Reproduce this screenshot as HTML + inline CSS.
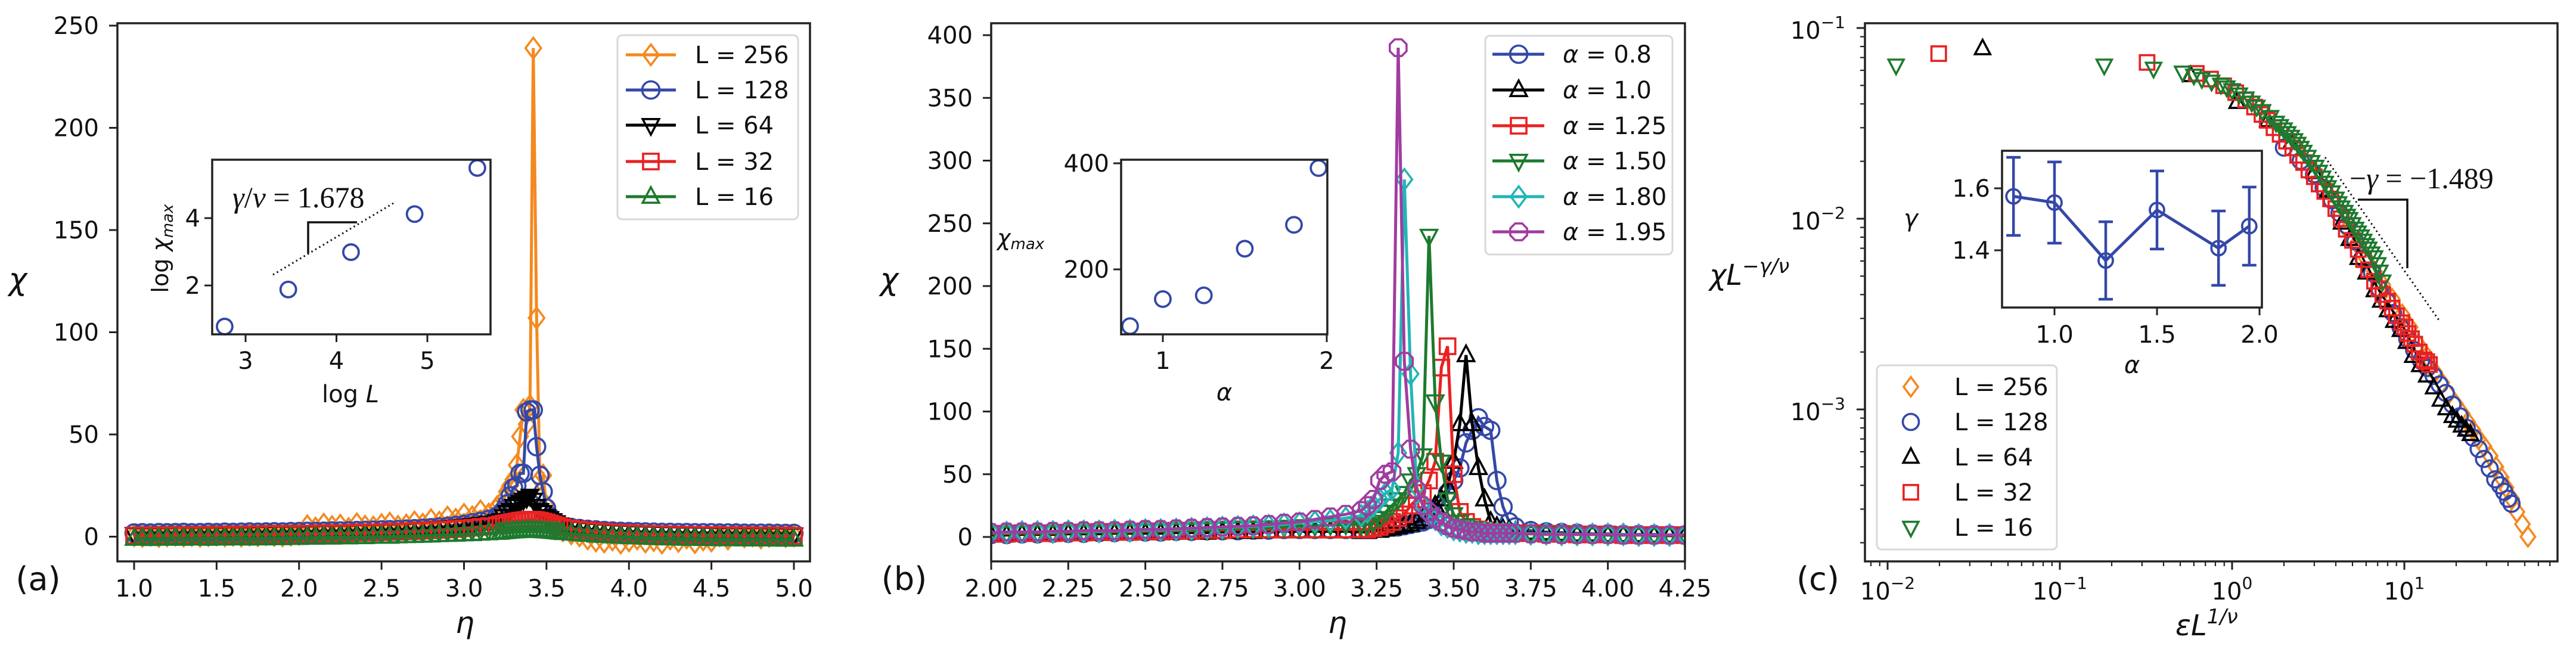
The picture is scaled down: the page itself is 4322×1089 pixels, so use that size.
<!DOCTYPE html>
<html><head><meta charset="utf-8"><style>
html,body{margin:0;padding:0;background:#fff;}
svg{display:block;}
text{font-family:"DejaVu Sans","Liberation Sans",sans-serif;fill:#111;}
.serif{font-family:"Liberation Serif","DejaVu Serif",serif;}
</style></head><body>
<svg id="fig" xmlns="http://www.w3.org/2000/svg" width="4322" height="1089" viewBox="0 0 4322 1089"></svg>
<script>
// ---------- Panel (a) data ----------
const ETA_A=[1.00,1.05,1.10,1.15,1.20,1.25,1.30,1.35,1.40,1.45,1.50,1.55,1.60,1.65,1.70,1.75,1.80,1.85,1.90,1.95,2.00,2.05,2.10,2.15,2.20,2.25,2.30,2.35,2.40,2.45,2.50,2.55,2.60,2.65,2.70,2.75,2.80,2.85,2.90,2.95,3.00,3.05,3.10,3.15,3.20,
3.22,3.24,3.26,3.28,3.30,3.32,3.34,3.36,3.38,3.40,3.42,3.44,3.46,3.48,3.50,3.52,3.54,3.56,3.58,
3.60,3.65,3.70,3.75,3.80,3.85,3.90,3.95,4.00,4.05,4.10,4.15,4.20,4.25,4.30,4.35,4.40,4.45,4.50,4.55,4.60,4.65,4.70,4.75,4.80,4.85,4.90,4.95,5.00];
const CHI_L256=[0.6,0.3,0.8,0.2,0.5,0.9,0.4,0.7,0.3,0.6,1.0,0.5,0.8,0.4,0.9,0.6,1.1,0.7,0.5,0.9,1.2,5.2,4.1,6.0,4.8,5.5,3.9,6.2,5.0,4.6,5.8,6.5,4.9,5.6,7.1,6.0,8.2,7.0,9.5,8.4,10.8,9.6,12.5,11.0,14.5,
16,18,22,25,28,35,49,62,55,64,239,107,28,30,15,10,7,5,4,
3,1.5,0.5,-1,-2,-2.5,-1.5,-3,-2,-1,-2.5,-1.8,-3,-1,-2.2,-0.5,-2.8,-1.5,-2,0.5,-1,1,0,0.5,-0.5,0.3,0.8,0.2,0.5];
const CHI_L128=[1.8,1.9,1.8,2.0,1.9,2.0,2.1,1.9,2.0,2.1,2.0,2.2,2.1,2.2,2.3,2.2,2.3,2.4,2.3,2.5,2.5,2.6,2.6,2.7,2.8,2.8,2.9,3.0,3.1,3.2,3.3,3.4,3.5,3.7,3.9,4.1,4.4,4.7,5.0,5.5,6.0,6.8,7.5,8.5,10,
11,13,16,20,24,25,31,31,61,62,62,44,30,22,14,10,8,7,6,
5,4.5,4,3.6,3.3,3.0,2.8,2.6,2.5,2.4,2.3,2.2,2.1,2.1,2.0,2.0,1.9,1.9,1.9,1.8,1.8,1.8,1.7,1.7,1.7,1.7,1.6,1.6,1.6];
const CHI_L64=[1.2,1.3,1.2,1.4,1.3,1.4,1.5,1.4,1.5,1.6,1.5,1.6,1.7,1.6,1.7,1.8,1.8,1.9,1.9,2.0,2.0,2.1,2.2,2.2,2.3,2.4,2.5,2.6,2.7,2.8,2.9,3.0,3.2,3.3,3.5,3.7,3.9,4.2,4.5,4.8,5.2,5.7,6.2,6.8,7.5,
8,10,12,13,15,16,17,18,19,20,18,15,13,12,10,9,8,7,6,
5.5,4.8,4.2,3.7,3.3,3.0,2.7,2.5,2.3,2.1,2.0,1.9,1.8,1.7,1.6,1.5,1.5,1.4,1.4,1.3,1.3,1.3,1.2,1.2,1.2,1.1,1.1,1.1,1.0];
const CHI_L32=[0.5,0.6,0.5,0.6,0.7,0.6,0.7,0.7,0.8,0.8,0.9,0.9,1.0,1.0,1.1,1.1,1.2,1.2,1.3,1.3,1.4,1.4,1.5,1.6,1.6,1.7,1.8,1.9,2.0,2.1,2.2,2.3,2.4,2.6,2.7,2.9,3.1,3.3,3.5,3.8,4.1,4.4,4.8,5.2,5.6,
6.0,6.3,6.6,6.9,7.2,7.5,7.8,8.0,8.2,8.3,8.3,8.1,7.8,7.4,7.0,6.5,6.0,5.5,5.0,
4.6,4.0,3.5,3.1,2.7,2.4,2.1,1.9,1.7,1.5,1.4,1.3,1.2,1.1,1.0,0.9,0.9,0.8,0.8,0.7,0.7,0.6,0.6,0.6,0.5,0.5,0.5,0.5,0.4];
const CHI_L16=[-1.0,-0.8,-1.1,-0.9,-1.0,-0.7,-1.0,-0.9,-0.8,-1.0,-0.7,-0.9,-0.8,-0.6,-0.9,-0.7,-0.8,-0.6,-0.7,-0.5,-0.6,-0.4,-0.5,-0.3,-0.4,-0.2,-0.3,-0.1,-0.2,0.0,0.1,0.0,0.2,0.3,0.4,0.5,0.6,0.8,0.9,1.0,1.2,1.3,1.5,1.7,1.9,
2.0,2.2,2.3,2.5,2.6,2.7,2.8,2.9,3.0,3.0,3.0,2.9,2.8,2.7,2.6,2.5,2.3,2.2,2.0,
1.8,1.5,1.2,0.9,0.6,0.4,0.2,0.0,-0.2,-0.3,-0.5,-0.6,-0.7,-0.8,-0.9,-1.0,-1.0,-1.1,-1.1,-1.2,-1.2,-1.2,-1.3,-1.3,-1.3,-1.3,-1.4,-1.4,-1.4];
const LEGEND_A=["L = 256","L = 128","L = 64","L = 32","L = 16"];
const INSET_A_LOGL=[2.77,3.47,4.16,4.86,5.55];
const INSET_A_LOGCHI=[0.78,1.88,2.99,4.12,5.49];
const XTICKS_A=["1.0","1.5","2.0","2.5","3.0","3.5","4.0","4.5","5.0"];
const YTICKS_A=["0","50","100","150","200","250"];

// ---------- Panel (b) data ----------
const ETA_B=[2.00,2.05,2.10,2.15,2.20,2.25,2.30,2.35,2.40,2.45,2.50,2.55,2.60,2.65,2.70,2.75,2.80,2.85,2.90,2.95,3.00,3.05,3.10,3.15,3.20,
3.22,3.24,3.26,3.28,3.30,3.32,3.34,3.36,3.38,3.40,3.42,3.44,3.46,3.48,3.50,3.52,3.54,3.56,3.58,3.60,3.62,3.64,3.66,3.68,3.70,
3.75,3.80,3.85,3.90,3.95,4.00,4.05,4.10,4.15,4.20,4.25];
const CHI_A08=[2,2,2.5,2.5,3,3,3,3.5,3.5,4,4,4,4.5,4.5,5,5,5,5.5,5.5,6,6,6,6,6,6,
6,6,7,7,8,8,9,10,11,12,14,18,25,35,45,55,75,85,95,88,85,45,24,12,8,
5,4,3.5,3,2.5,2.5,2,2,2,1.5,1.5];
const CHI_A10=[1.5,1.5,2,2,2,2.5,2.5,2.5,3,3,3,3,3.5,3.5,3.5,4,4,4,4.5,4.5,4.5,4.5,4.5,4.5,4,
4,5,5,6,7,8,9,10,12,14,18,25,30,40,60,90,145,90,55,30,12,8,6,5,4,
3.5,3,2.5,2,2,1.5,1.5,1.5,1,1,1];
const CHI_A125=[2.5,2.5,3,3,3,3.5,3.5,4,4,4,4.5,4.5,5,5,5.5,5.5,6,6,6,6,6,6,6,6,6,
6,7,8,10,12,15,18,25,30,35,45,60,135,152,50,20,12,8,6,5,4,4,3,3,3,
3,2.5,2.5,2,2,2,1.5,1.5,1.5,1.5,1.5];
const CHI_A150=[3,3,3.5,3.5,3.5,4,4,4,4.5,4.5,5,5,5.5,5.5,6,6.5,7,7,7.5,8,8.5,9,9.5,10,10,
10,12,15,20,25,30,35,45,50,65,240,108,60,30,18,12,9,7,6,5,4,4,3,3,3,
3,2.5,2.5,2,2,2,2,1.5,1.5,1.5,1.5];
const CHI_A180=[3.5,3.5,4,4,4,4.5,4.5,4.5,5,5,5.5,5.5,6,6.5,7,7.5,8,8.5,9,10,11,12,13,15,17,
20,25,30,35,38,67,285,130,40,25,18,14,10,8,6,5,4,4,3,3,3,3,3,3,3,
2.5,2.5,2,2,2,2,2,1.5,1.5,1.5,1.5];
const CHI_A195=[3.5,4,4,4,4.5,4.5,5,5,5,5.5,6,6,6.5,7,7.5,8,8.5,9,10,11,12,14,16,18,21,
25,30,45,50,52,390,140,70,38,25,20,15,12,9,7,6,5,4,4,3,3,3,3,3,3,
2.5,2,2,2,2,2,1.5,1.5,1.5,1.5,1.5];
const LEGEND_B=["0.8","1.0","1.25","1.50","1.80","1.95"];
const INSET_B_ALPHA=[0.8,1.0,1.25,1.5,1.8,1.95];
const INSET_B_CHIMAX=[93,144,151,239,284,391];
const XTICKS_B=["2.00","2.25","2.50","2.75","3.00","3.25","3.50","3.75","4.00","4.25"];
const YTICKS_B=["0","50","100","150","200","250","300","350","400"];

// ---------- Panel (c) data ----------
const C_X_L256=[4.65,5.3,6.0,6.7,7.5,8.5,9.7,10.8,12,13.5,15,16.5,18,19.8,21.7,23.3,25,27,29,31.5,34,36.5,38.9,42,45,48.5,52.2];
const C_Y_L256=[0.0088,0.0074,0.0062,0.0053,0.0045,0.0038,0.00315,0.0027,0.0022,0.0019,0.00157,0.00138,0.0012,0.00107,0.00095,0.00086,0.00078,0.0007,0.00064,0.00057,0.0005,0.00044,0.00039,0.00034,0.00029,0.00025,0.000215];
const C_X_L128=[2.0,2.5,2.99,3.4,3.8,4.2,4.65,5.2,5.8,6.5,7.2,7.9,8.6,9.5,10.4,11.4,12.5,13.6,14.8,16,17.4,19,21,23,25.1,27,29,31.3,33.7,36,38,40,41.9];
const C_Y_L128=[0.0236,0.0201,0.0171,0.0145,0.0125,0.0107,0.0092,0.0076,0.0062,0.0052,0.00425,0.0037,0.0032,0.0027,0.00234,0.00205,0.0018,0.00165,0.0015,0.00135,0.00122,0.00106,0.00092,0.0008,0.00071,0.00062,0.00055,0.00049,0.00043,0.0004,0.00037,0.00034,0.00032];
const C_X_L64=[0.0356,0.575,1.07,1.61,2.2,3.0,3.6,4.32,4.8,5.4,6.0,6.7,7.3,8.0,8.7,9.5,10.3,11.2,12.3,13.5,14.8,16.2,17.5,19,20.2,21.5,22.8,24.2];
const C_Y_L64=[0.078,0.0564,0.0408,0.0327,0.025,0.0175,0.014,0.0095,0.0078,0.0062,0.0052,0.0042,0.0037,0.0033,0.0029,0.0026,0.00225,0.0019,0.0017,0.0015,0.0013,0.00112,0.00101,0.00092,0.00087,0.00082,0.00078,0.00074];
const C_X_L32=[0.0198,0.321,0.62,0.75,0.893,1.05,1.2,1.35,1.49,1.6,1.75,1.9,2.07,2.25,2.4,2.6,2.79,3.0,3.2,3.45,3.73,4.0,4.3,4.6,5.0,5.4,5.8,6.2,6.71,7.1,7.5,8.0,8.5,9.0,9.68,10.1,10.5,11.0,11.5,12.2,13.0,13.5,14.0];
const C_Y_L32=[0.0734,0.066,0.0578,0.054,0.0498,0.0458,0.0419,0.0385,0.0352,0.0328,0.030,0.0277,0.0255,0.0235,0.0215,0.0197,0.018,0.0166,0.0152,0.0139,0.0127,0.0113,0.0100,0.0088,0.0077,0.0069,0.0061,0.0054,0.0047,0.0043,0.0040,0.0037,0.0034,0.0031,0.00285,0.0027,0.0025,0.00235,0.0022,0.0020,0.00182,0.00178,0.00172];
const C_X_L16=[0.0112,0.181,0.35,0.516,0.6,0.667,0.76,0.861,0.93,0.998,1.1,1.2,1.3,1.39,1.5,1.67,1.8,1.9,2.0,2.1,2.2,2.3,2.4,2.5,2.6,2.75,2.89,3.05,3.2,3.35,3.47,3.6,3.8,4.0,4.15,4.32,4.5,4.65,4.8,5.0,5.2,5.38,5.6,5.8,6.0,6.2,6.45,6.71,7.0,7.2,7.48];
const C_Y_L16=[0.0638,0.0638,0.0614,0.0586,0.0565,0.0542,0.0525,0.0506,0.049,0.0474,0.045,0.0429,0.0408,0.0388,0.0368,0.0343,0.032,0.0307,0.0295,0.0282,0.027,0.0259,0.0248,0.0236,0.0225,0.0212,0.0199,0.0188,0.0177,0.0165,0.0155,0.0147,0.0138,0.0128,0.0121,0.0115,0.0109,0.0104,0.0100,0.0094,0.0089,0.0085,0.0081,0.0077,0.0073,0.0070,0.0066,0.0063,0.0058,0.0053,0.0047];
const LEGEND_C=["L = 256","L = 128","L = 64","L = 32","L = 16"];
const INSET_C_ALPHA=[0.8,1.0,1.25,1.5,1.8,1.95];
const INSET_C_GAMMA=[1.574,1.554,1.367,1.530,1.407,1.478];
const INSET_C_ERR=[0.126,0.131,0.125,0.126,0.120,0.126];

// ---------- helpers ----------
const NS='http://www.w3.org/2000/svg';
const svg=document.getElementById('fig');
function mk(parent,tag,attrs){const e=document.createElementNS(NS,tag);for(const k in attrs)e.setAttribute(k,attrs[k]);parent.appendChild(e);return e;}
function grp(parent,name){const g=mk(parent,'g',{});return g;}
function lin(p0,p1,v0,v1){return v=>p0+(v-v0)*(p1-p0)/(v1-v0);}
function lg(p0,p1,v0,v1){return v=>p0+(Math.log10(v)-v0)*(p1-p0)/(v1-v0);}
function marker(g,type,x,y,s,color,sw){
  let e;const a={fill:'none',stroke:color,'stroke-width':sw};
  if(type==='circle'){a.cx=x;a.cy=y;a.r=s;e=mk(g,'circle',a);}
  else if(type==='diamond'){a.points=`${x},${y-s*1.2} ${x+s*0.9},${y} ${x},${y+s*1.2} ${x-s*0.9},${y}`;e=mk(g,'polygon',a);}
  else if(type==='square'){a.x=x-s*0.9;a.y=y-s*0.9;a.width=s*1.8;a.height=s*1.8;e=mk(g,'rect',a);}
  else if(type==='tup'){a.points=`${x},${y-s*1.1} ${x+s*0.95},${y+s*0.7} ${x-s*0.95},${y+s*0.7}`;e=mk(g,'polygon',a);}
  else if(type==='tdown'){a.points=`${x},${y+s*1.1} ${x+s*0.95},${y-s*0.7} ${x-s*0.95},${y-s*0.7}`;e=mk(g,'polygon',a);}
  else {let pts=[];for(let i=0;i<8;i++){const t=Math.PI/8+i*Math.PI/4;pts.push((x+s*1.05*Math.cos(t)).toFixed(1)+','+(y+s*1.05*Math.sin(t)).toFixed(1));}a.points=pts.join(' ');e=mk(g,'polygon',a);}
  return e;
}
function txt(g,x,y,s,size,anchor,extra){const t=mk(g,'text',Object.assign({x:x,y:y,'font-size':size,'text-anchor':anchor||'middle'},extra||{}));t.textContent=s;return t;}
function frame(g,l,t,r,b,sw){return mk(g,'rect',{x:l,y:t,width:r-l,height:b-t,fill:'none',stroke:'#222','stroke-width':sw||3.5});}

const C={orange:'#f4891f',blue:'#3448a8',black:'#000',red:'#e82222',green:'#1d7a2e',cyan:'#22b5b5',purple:'#a03ca0'};
const MSW=3.6, LW=5;

// ================= PANEL A =================
(function(){
const P=grp(svg,'panel-a');
const L=197,R=1359,T=39,B=942;
const sx=lin(225,1332,1,5), sy=lin(900.5,43,0,250);
const clip=mk(P,'clipPath',{id:'clipA'});mk(clip,'rect',{x:L,y:T,width:R-L,height:B-T});
const data=grp(P,'plot-area-a');data.setAttribute('clip-path','url(#clipA)');
const series=[[CHI_L256,C.orange,'diamond','l256'],[CHI_L128,C.blue,'circle','l128'],[CHI_L64,C.black,'tdown','l64'],[CHI_L32,C.red,'square','l32'],[CHI_L16,C.green,'tup','l16']];
series.forEach(([Y,col,mt,nm])=>{
  const g=grp(data,'series-'+nm);
  const pl=mk(g,'polyline',{points:ETA_A.map((e,i)=>sx(e).toFixed(1)+','+sy(Y[i]).toFixed(1)).join(' '),fill:'none',stroke:col,'stroke-width':LW});
  
  
  ETA_A.forEach((e,i)=>{const m=marker(g,mt,sx(e),sy(Y[i]),14.5,col,MSW);
    
    });
});
const ax=grp(P,'axes-a');
frame(ax,L,T,R,B);
XTICKS_A.forEach(s=>{const v=parseFloat(s);mk(ax,'line',{x1:sx(v),x2:sx(v),y1:B,y2:B+14,stroke:'#222','stroke-width':3});
  const t=txt(ax,sx(v),1001,s,40);});
YTICKS_A.forEach(s=>{const v=parseFloat(s);mk(ax,'line',{x1:L-14,x2:L,y1:sy(v),y2:sy(v),stroke:'#222','stroke-width':3});
  const t=txt(ax,166,sy(v)+14,s,40,'end');});
const xl=txt(ax,780,1062,'η',50,'middle',{'font-style':'italic'});
const yl=txt(ax,30,486,'χ',52,'middle',{'font-style':'italic'});
const pl=txt(P,64,990,'(a)',54,'middle',{fill:'#555'});
const lgd=grp(P,'legend-a');
mk(lgd,'rect',{x:1036,y:59,width:303,height:309,rx:8,fill:'#fff','fill-opacity':0.85,stroke:'#d8d8d8','stroke-width':3});
const ly=[92,151,210,271,330];
series.forEach(([Y,col,mt,nm],i)=>{const e=grp(lgd,'legend-entry-'+nm);
  mk(e,'line',{x1:1050,x2:1134,y1:ly[i],y2:ly[i],stroke:col,'stroke-width':LW});
  marker(e,mt,1092,ly[i],14.5,col,MSW);
  txt(e,1166,ly[i]+14,LEGEND_A[i],40,'start');});
const ins=grp(P,'inset-a');
const iL=356,iR=823,iT=268,iB=561;
const ix=lin(412,717,3,5), iy=lin(479,366,2,4);
mk(ins,'rect',{x:iL,y:iT,width:iR-iL,height:iB-iT,fill:'#fff'});
const dl=mk(ins,'line',{x1:458,y1:461,x2:660,y2:341,stroke:'#111','stroke-width':3,'stroke-dasharray':'2.5 5'});

mk(ins,'polyline',{points:'517,425 517,373 599,373',fill:'none',stroke:'#111','stroke-width':3.5});
const ft=txt(ins,390,348,'',50,'start',{class:'serif'});
ft.innerHTML='<tspan font-style="italic">γ</tspan>/<tspan font-style="italic">ν</tspan> = 1.678';
INSET_A_LOGL.forEach((v,i)=>{const m=marker(ins,'circle',ix(v),iy(INSET_A_LOGCHI[i]),13,C.blue,3.8);
  });
frame(ins,iL,iT,iR,iB,3.5);
[3,4,5].forEach(v=>{mk(ins,'line',{x1:ix(v),x2:ix(v),y1:iB,y2:iB+13,stroke:'#222','stroke-width':3});txt(ins,ix(v),619,String(v),40);});
[2,4].forEach(v=>{mk(ins,'line',{x1:iL-13,x2:iL,y1:iy(v),y2:iy(v),stroke:'#222','stroke-width':3});txt(ins,iL-20,iy(v)+14,String(v),40,'end');});
const ilx=txt(ins,588,675,'',40);ilx.innerHTML='log <tspan font-style="italic">L</tspan>';
const ily=txt(ins,0,0,'',38,'middle',{transform:'translate(282,417) rotate(-90)'});ily.innerHTML='log <tspan font-style="italic">χ</tspan><tspan font-style="italic" font-size="26" dy="8">max</tspan>';
})();

// ================= PANEL B =================
(function(){
const P=grp(svg,'panel-b');
const L=1663,R=2827,T=39,B=942;
const sx=lin(1663,2827,2,4.25), sy=lin(901,59,0,400);
const clip=mk(P,'clipPath',{id:'clipB'});mk(clip,'rect',{x:L,y:T,width:R-L,height:B-T});
const data=grp(P,'plot-area-b');data.setAttribute('clip-path','url(#clipB)');
const series=[[CHI_A08,C.blue,'circle','a08'],[CHI_A10,C.black,'tup','a10'],[CHI_A125,C.red,'square','a125'],[CHI_A150,C.green,'tdown','a150'],[CHI_A180,C.cyan,'diamond','a180'],[CHI_A195,C.purple,'oct','a195']];
series.forEach(([Y,col,mt,nm])=>{
  const g=grp(data,'series-'+nm);
  const pl=mk(g,'polyline',{points:ETA_B.map((e,i)=>sx(e).toFixed(1)+','+sy(Y[i]).toFixed(1)).join(' '),fill:'none',stroke:col,'stroke-width':LW});
  
  
  ETA_B.forEach((e,i)=>{const m=marker(g,mt,sx(e),sy(Y[i]),14.5,col,MSW);
    
    });
});
const ax=grp(P,'axes-b');
frame(ax,L,T,R,B);
XTICKS_B.forEach(s=>{const v=parseFloat(s);mk(ax,'line',{x1:sx(v),x2:sx(v),y1:B,y2:B+14,stroke:'#222','stroke-width':3});
  const t=txt(ax,sx(v),1001,s,40);});
YTICKS_B.forEach(s=>{const v=parseFloat(s);mk(ax,'line',{x1:L-14,x2:L,y1:sy(v),y2:sy(v),stroke:'#222','stroke-width':3});
  const t=txt(ax,L-31,sy(v)+14,s,40,'end');});
const xl=txt(ax,2244,1062,'η',50,'middle',{'font-style':'italic'});
const yl=txt(ax,1492,486,'χ',52,'middle',{'font-style':'italic'});
const pl=txt(P,1517,990,'(b)',54,'middle',{fill:'#555'});
const lgd=grp(P,'legend-b');
mk(lgd,'rect',{x:2492,y:60,width:314,height:367,rx:8,fill:'#fff','fill-opacity':0.85,stroke:'#d8d8d8','stroke-width':3});
const ly=[91,151,211,270,330,389];
series.forEach(([Y,col,mt,nm],i)=>{const e=grp(lgd,'legend-entry-'+nm);
  mk(e,'line',{x1:2504,x2:2591,y1:ly[i],y2:ly[i],stroke:col,'stroke-width':LW});
  marker(e,mt,2548,ly[i],14.5,col,MSW);
  const t=txt(e,2622,ly[i]+14,'',40,'start');t.innerHTML='<tspan font-style="italic">α</tspan> = '+LEGEND_B[i];});
const ins=grp(P,'inset-b');
const iL=1881,iR=2227,iT=268,iB=561;
const ix=lin(1951,2226,1,2), iy=lin(452,274,200,400);
mk(ins,'rect',{x:iL,y:iT,width:iR-iL,height:iB-iT,fill:'#fff'});
INSET_B_ALPHA.forEach((v,i)=>{const m=marker(ins,'circle',ix(v),iy(INSET_B_CHIMAX[i]),13,C.blue,3.8);
  });
frame(ins,iL,iT,iR,iB,3.5);
[1,2].forEach(v=>{mk(ins,'line',{x1:ix(v),x2:ix(v),y1:iB,y2:iB+13,stroke:'#222','stroke-width':3});txt(ins,ix(v),619,String(v),40);});
[200,400].forEach(v=>{mk(ins,'line',{x1:iL-13,x2:iL,y1:iy(v),y2:iy(v),stroke:'#222','stroke-width':3});txt(ins,iL-20,iy(v)+14,String(v),40,'end');});
txt(ins,2054,672,'α',40,'middle',{'font-style':'italic'});
const cm=txt(ins,1673,412,'',38,'start');cm.innerHTML='<tspan font-style="italic">χ</tspan><tspan font-style="italic" font-size="26" dy="6">max</tspan>';
})();

// ================= PANEL C =================
(function(){
const P=grp(svg,'panel-c');
const L=3129,R=4291,T=39,B=942;
const sx=lg(3745,4034,0,1), sy=lg(47,367,-1,-2);
const clip=mk(P,'clipPath',{id:'clipC'});mk(clip,'rect',{x:L,y:T,width:R-L,height:B-T});
const data=grp(P,'plot-area-c');data.setAttribute('clip-path','url(#clipC)');
const series=[[C_X_L256,C_Y_L256,C.orange,'diamond','l256'],[C_X_L128,C_Y_L128,C.blue,'circle','l128'],[C_X_L64,C_Y_L64,C.black,'tup','l64'],[C_X_L32,C_Y_L32,C.red,'square','l32'],[C_X_L16,C_Y_L16,C.green,'tdown','l16']];
series.forEach(([X,Y,col,mt,nm])=>{const g=grp(data,'scatter-'+nm);
  X.forEach((x,i)=>{const m=marker(g,mt,sx(x),sy(Y[i]),13.5,col,MSW);
    
    });});
const ax=grp(P,'axes-c');
frame(ax,L,T,R,B);
for(let d=-3;d<=1;d++){for(let k=1;k<10;k++){const v=k*Math.pow(10,d);const x=sx(v);if(x<L||x>R)continue;
  mk(ax,'line',{x1:x,x2:x,y1:B,y2:B+(k===1?14:8),stroke:'#222','stroke-width':k===1?3:2.2});
  if(k===1){const t=txt(ax,x,1006,'',40);t.innerHTML='10<tspan font-size="28" dy="-18">'+(d<0?'−'+(-d):d)+'</tspan>';}}}
for(let d=-4;d<=-1;d++){for(let k=1;k<10;k++){const v=k*Math.pow(10,d);const y=sy(v);if(y<T||y>B)continue;
  mk(ax,'line',{x1:L-(k===1?14:8),x2:L,y1:y,y2:y,stroke:'#222','stroke-width':k===1?3:2.2});
  if(k===1){const t=txt(ax,3096,y+18,'',40,'end');t.innerHTML='10<tspan font-size="28" dy="-18">−'+(-d)+'</tspan>';}}}
const xl=txt(ax,3650,1066,'',48,'start');xl.innerHTML='<tspan font-style="italic">εL</tspan><tspan font-style="italic" font-size="34" dy="-20">1/ν</tspan>';

const yl=txt(ax,2868,478,'',48,'start');yl.innerHTML='<tspan font-style="italic">χL</tspan><tspan font-style="italic" font-size="34" dy="-20">−γ/ν</tspan>';

const pl=txt(P,3050,990,'(c)',54,'middle',{fill:'#555'});
const an=grp(P,'slope-annotation-c');
mk(an,'line',{x1:3901,y1:264,x2:4094,y2:540,stroke:'#111','stroke-width':3,'stroke-dasharray':'2.5 5'});
mk(an,'polyline',{points:'3956,335 4039,335 4039,450',fill:'none',stroke:'#111','stroke-width':3.5});
const at=txt(an,3942,316,'',50,'start',{class:'serif'});at.innerHTML='−<tspan font-style="italic">γ</tspan> = −1.489';
const lgd=grp(P,'legend-c');
mk(lgd,'rect',{x:3149,y:613,width:302,height:309,rx:8,fill:'#fff','fill-opacity':0.85,stroke:'#d8d8d8','stroke-width':3});
const ly=[649,708,767,826,885];
series.forEach(([X,Y,col,mt,nm],i)=>{const e=grp(lgd,'legend-entry-'+nm);
  marker(e,mt,3206,ly[i],13.5,col,MSW);
  txt(e,3279,ly[i]+14,LEGEND_C[i],40,'start');});
const ins=grp(P,'inset-c');
const iL=3359,iR=3795,iT=253,iB=516;
const ix=lin(3447,3791,1,2), iy=lin(316,420,1.6,1.4);
mk(ins,'rect',{x:iL,y:iT,width:iR-iL,height:iB-iT,fill:'#fff'});
const gl=mk(ins,'polyline',{points:INSET_C_ALPHA.map((a,i)=>ix(a).toFixed(1)+','+iy(INSET_C_GAMMA[i]).toFixed(1)).join(' '),fill:'none',stroke:C.blue,'stroke-width':5});

INSET_C_ALPHA.forEach((a,i)=>{const x=ix(a),y1=iy(INSET_C_GAMMA[i]+INSET_C_ERR[i]),y2=iy(INSET_C_GAMMA[i]-INSET_C_ERR[i]);
  const eb=mk(ins,'path',{d:`M${x},${y1}V${y2}M${x-12},${y1}H${x+12}M${x-12},${y2}H${x+12}`,stroke:C.blue,'stroke-width':4.5,fill:'none'});
  
  const m=marker(ins,'circle',x,iy(INSET_C_GAMMA[i]),12,C.blue,3.8);
  });
frame(ins,iL,iT,iR,iB,3.5);
[1.0,1.5,2.0].forEach(v=>{mk(ins,'line',{x1:ix(v),x2:ix(v),y1:iB,y2:iB+13,stroke:'#222','stroke-width':3});txt(ins,ix(v),575,v.toFixed(1),40);});
[1.4,1.6].forEach(v=>{mk(ins,'line',{x1:iL-13,x2:iL,y1:iy(v),y2:iy(v),stroke:'#222','stroke-width':3});txt(ins,iL-20,iy(v)+14,v.toFixed(1),40,'end');});
txt(ins,3577,626,'α',40,'middle',{'font-style':'italic'});
txt(ins,3206,380,'γ',40,'middle',{'font-style':'italic'});
})();
</script>
</body></html>
